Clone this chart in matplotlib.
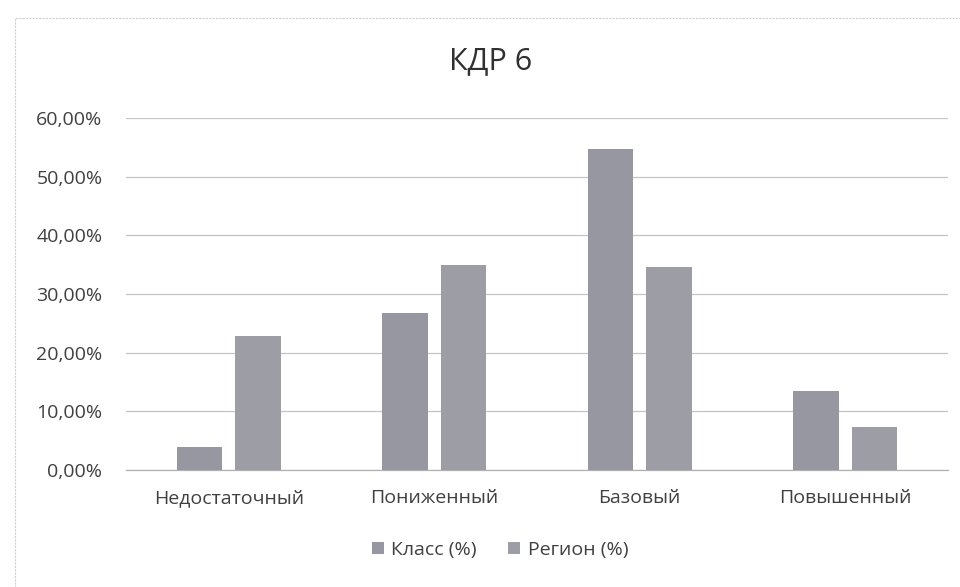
import matplotlib
matplotlib.use("Agg")
import matplotlib.pyplot as plt
import numpy as np
from matplotlib.patches import Rectangle

plt.rcParams['font.family'] = ['Open Sans', 'DejaVu Sans']

categories = ["Недостаточный", "Пониженный", "Базовый", "Повышенный"]
klass = [4.0, 26.8, 54.8, 13.5]
region = [22.8, 34.9, 34.6, 7.3]
series_names = ["Класс (%)", "Регион (%)"]
yticks = [0, 10, 20, 30, 40, 50, 60]
ytick_labels = ["0,00%", "10,00%", "20,00%", "30,00%", "40,00%", "50,00%", "60,00%"]
title = "КДР 6"

W, H = 960, 587
fig = plt.figure(figsize=(W / 100, H / 100), dpi=100)
ax = fig.add_axes([126 / W, (H - 470) / H, 822 / W, 352 / H])

x = np.arange(len(categories))
bw = 0.22
off = 0.142
c1 = "#9797a1"
c2 = "#9d9da6"
ax.bar(x - off, klass, width=bw, color=c1, label=series_names[0], zorder=3)
ax.bar(x + off, region, width=bw, color=c2, label=series_names[1], zorder=3)

ax.set_xlim(-0.5, len(categories) - 0.5)
ax.set_ylim(0, 60)
ax.set_yticks(yticks)
ax.set_yticklabels(ytick_labels)
ax.set_xticks(x)
ax.set_xticklabels(categories)
ax.tick_params(axis='both', length=0, colors="#404040", labelsize=14)
ax.tick_params(axis='y', pad=17)
ax.tick_params(axis='x', pad=14)
ax.grid(axis='y', color="#c4c4c4", linewidth=0.9, zorder=0)
for s in ['top', 'right', 'left']:
    ax.spines[s].set_visible(False)
ax.spines['bottom'].set_color("#b0b0b0")
ax.spines['bottom'].set_linewidth(0.9)

fig.text(491 / W, 1 - 61 / H, title, ha='center', va='center', fontsize=22, color="#303030")

leg = fig.legend(loc='center', bbox_to_anchor=(500 / W, 1 - 550 / H), ncol=2, frameon=False,
                 handlelength=0.6, handleheight=0.6, handletextpad=0.4, columnspacing=1.6,
                 fontsize=14)
for t in leg.get_texts():
    t.set_color("#404040")

fig.patches.append(Rectangle((15 / W, -0.05), 1.1, 1 - 18 / H + 0.05, transform=fig.transFigure,
                             fill=False, edgecolor="#cfcfcf", linewidth=0.8, linestyle=(0, (2, 1))))

fig.savefig("out.png", dpi=100)
